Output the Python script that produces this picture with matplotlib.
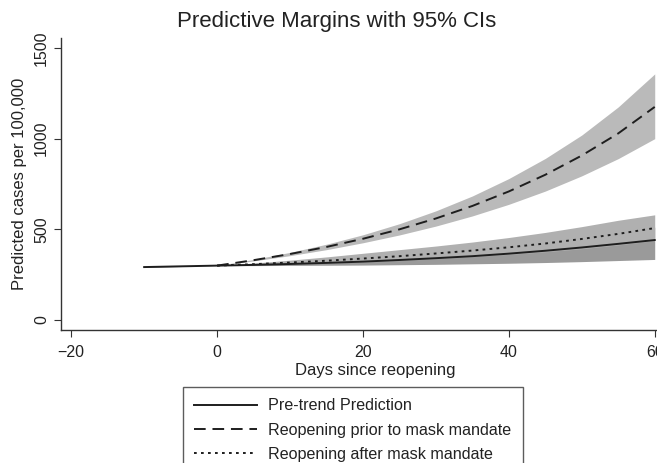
import matplotlib
matplotlib.use('Agg')
import matplotlib.pyplot as plt
import numpy as np

plt.rcParams['font.family'] = ['Liberation Sans', 'DejaVu Sans']

# days since reopening
days_pre = [-10, -5, 0, 5, 10, 15, 20, 25, 30, 35, 40, 45, 50, 55, 60]
days_post = [0, 5, 10, 15, 20, 25, 30, 35, 40, 45, 50, 55, 60]

# pre-trend prediction (solid)
pre_mean = [292, 296, 300, 304, 309, 315, 322, 331, 341, 352, 366, 382, 400, 420, 441]
pre_lo = [290, 295, 300, 300, 301, 302, 303, 305, 307, 310, 313, 317, 322, 328, 334]
pre_hi = [294, 297, 300, 308, 317, 327, 340, 354, 370, 388, 408, 430, 455, 482, 512]

# reopening prior to mask mandate (dashed)
prior_mean = [300, 330, 364, 403, 448, 500, 560, 629, 709, 801, 907, 1029, 1175]
prior_lo = [300, 326, 355, 388, 426, 469, 518, 574, 638, 711, 795, 890, 1000]
prior_hi = [300, 334, 373, 418, 470, 531, 602, 684, 780, 891, 1020, 1175, 1357]

# reopening after mask mandate (dotted)
after_mean = [300, 308, 317, 327, 339, 352, 367, 383, 401, 422, 447, 475, 507]
after_lo = [300, 303, 308, 313, 320, 328, 338, 349, 362, 376, 393, 414, 438]
after_hi = [300, 314, 330, 348, 368, 388, 408, 430, 455, 483, 515, 550, 580]

fig = plt.figure(figsize=(6.57, 4.63), dpi=100, facecolor='w')
ax = fig.add_axes([61/657, 1-330/463, (689-61)/657, (330-38)/463])

ax.fill_between(days_post, prior_lo, prior_hi, color='#bababa', lw=0)
ax.fill_between(days_pre, pre_lo, pre_hi, color='#9a9a9a', lw=0)
ax.fill_between(days_post, after_lo, after_hi, color='#b0b0b0', lw=0)

l1, = ax.plot(days_pre, pre_mean, color='#1e1e1e', lw=1.4)
l2, = ax.plot(days_post, prior_mean, color='#1e1e1e', lw=1.4, dashes=(6, 3.5))
l3, = ax.plot(days_post, after_mean, color='#1e1e1e', lw=1.4, dashes=(1.4, 2.2))

ax.set_xlim(-21.4, 64.7)
ax.set_ylim(-55, 1555)
ax.set_xticks([-20, 0, 20, 40, 60])
ax.set_yticks([0, 500, 1000, 1500])
ax.tick_params(axis='both', labelsize=11.5, length=5, width=0.8,
               color='#333333', labelcolor='#222222')
ax.tick_params(axis='x', pad=6)
for lab in ax.get_yticklabels():
    lab.set_rotation(90)
    lab.set_va('center')

for side in ['top', 'right']:
    ax.spines[side].set_visible(False)
for side in ['left', 'bottom']:
    ax.spines[side].set_color('#333333')
    ax.spines[side].set_linewidth(1.0)

ax.set_xlabel('Days since reopening', fontsize=12, color='#222222', labelpad=2)
ax.set_ylabel('Predicted cases per 100,000', fontsize=12, color='#222222', labelpad=5)
fig.text(337/657, 1-22/463, 'Predictive Margins with 95% CIs', fontsize=16,
         color='#222222', ha='center', va='center')

leg = fig.legend([l1, l2, l3],
                 ['Pre-trend Prediction',
                  'Reopening prior to mask mandate',
                  'Reopening after mask mandate'],
                 loc='upper left', bbox_to_anchor=(183/657, 1-387/463),
                 fontsize=11.6, handlelength=3.9, handletextpad=0.7,
                 labelspacing=0.58, borderpad=0.7, borderaxespad=0,
                 fancybox=False, frameon=True)
leg.get_frame().set_edgecolor('#333333')
leg.get_frame().set_linewidth(1.0)
for t in leg.get_texts():
    t.set_color('#222222')

plt.savefig('out.png', dpi=100)
